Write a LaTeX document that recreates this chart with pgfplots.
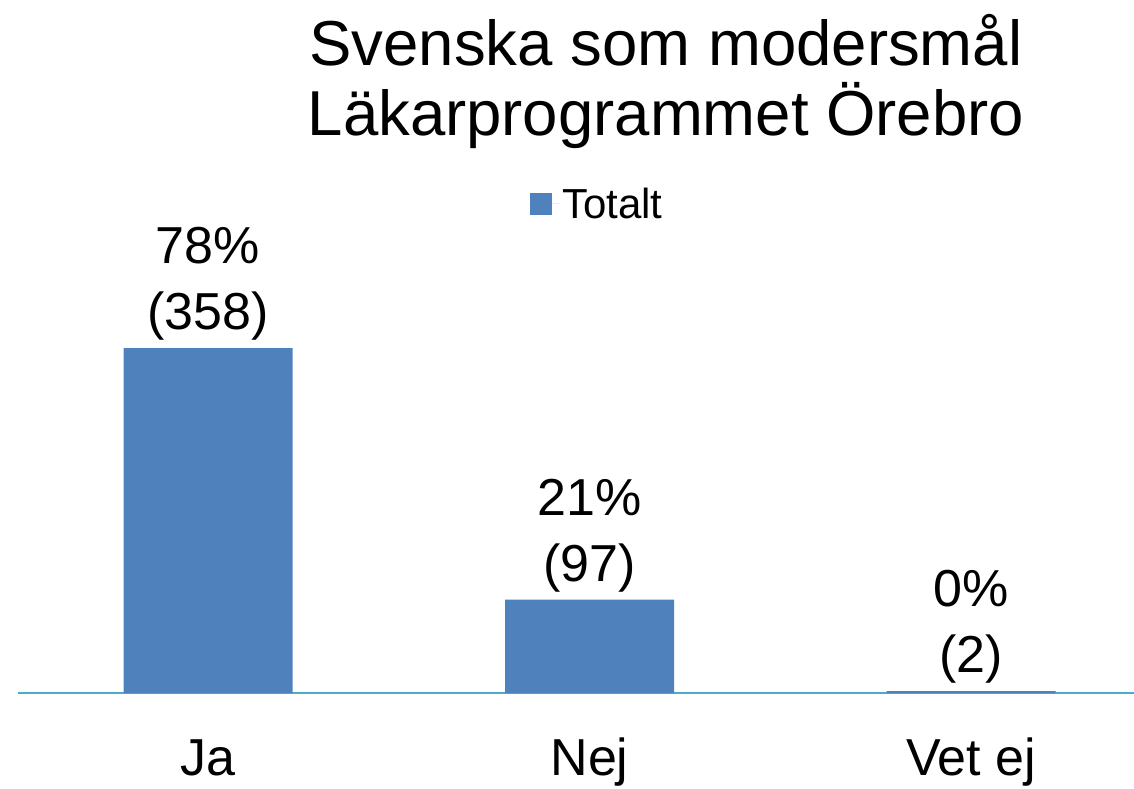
\documentclass[border=0pt]{standalone}
\usepackage{pgfplots}
\pgfplotsset{compat=1.18}
\usepackage{fontspec}
\setmainfont{Liberation Sans}
\definecolor{barblue}{HTML}{4F81BD}
\definecolor{axisline}{HTML}{4BACC6}
\begin{document}
\begin{tikzpicture}
\useasboundingbox (0,0) rectangle (1134pt,788pt);
\begin{axis}[
    anchor=south west, at={(18pt,95pt)},
    scale only axis,
    width=1116pt, height=693pt,
    ybar,
    bar width=169pt,
    xmin=-0.498, xmax=2.427,
    ymin=0, ymax=157.4,
    axis y line=none,
    axis x line*=bottom,
    x axis line style={draw=axisline, line width=2pt},
    xtick=data,
    xticklabels={Ja, Nej, Vet ej},
    major tick length=0pt,
    xticklabel style={font=\fontsize{52}{60}\selectfont, anchor=base, yshift=-82pt},
    point meta=explicit symbolic,
    nodes near coords={\pgfplotspointmeta},
    nodes near coords style={font=\fontsize{52}{66}\selectfont, align=center, anchor=south, yshift=4pt},
    title={Svenska som modersmål\\Läkarprogrammet Örebro},
    title style={font=\fontsize{63.5}{70}\selectfont, align=center, at={(0.5806,0.971)}, anchor=north, inner sep=0pt},
    legend style={draw=none, fill=none, font=\fontsize{42}{45}\selectfont, at={(0.519,0.706)}, anchor=center},
    legend image code/.code={\fill[#1] (0pt,-11pt) rectangle (22pt,11pt); \path (22pt,0pt) -- (30pt,0pt);},
]
\addplot[fill=barblue, draw=none] coordinates {
    (0,78.34) [78\%\\(358)]
    (1,21.23) [21\%\\ (97)]
    (2,0.44) [0\%\\ (2)]
};
\addlegendentry{Totalt}
\end{axis}
\end{tikzpicture}
\end{document}
